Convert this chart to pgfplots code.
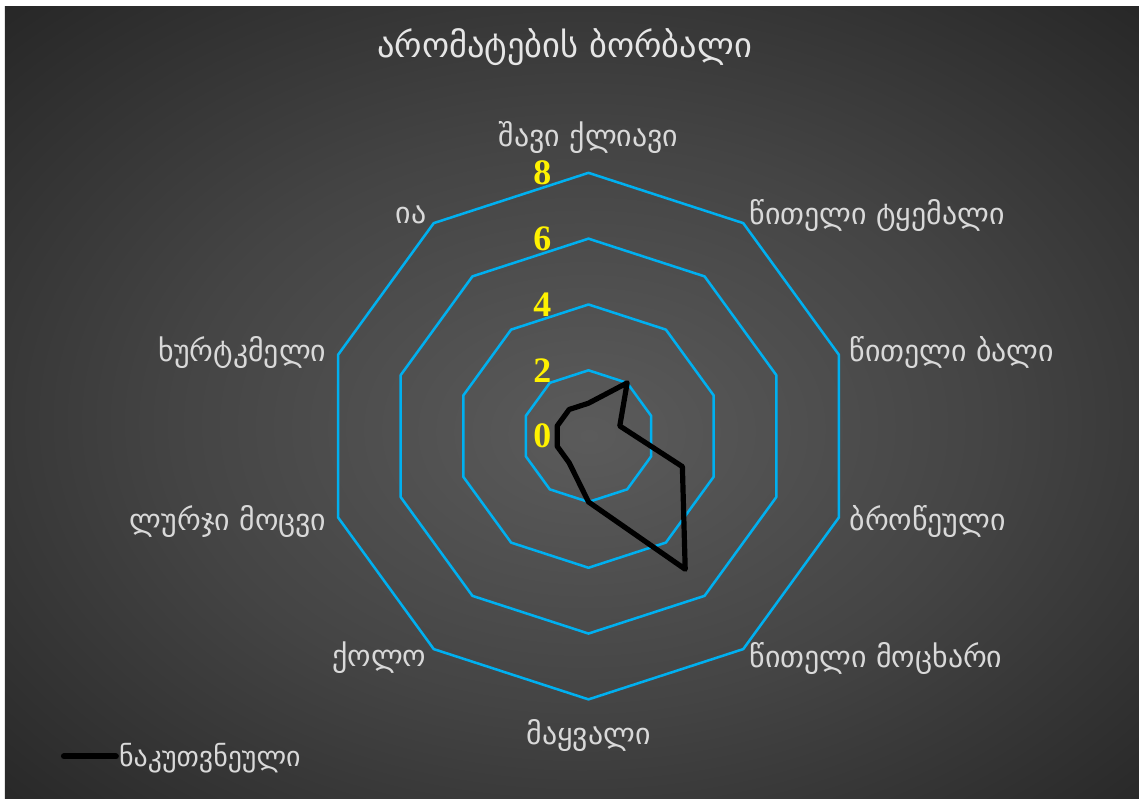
\documentclass[border=0pt]{standalone}
\usepackage{pgfplots}
\pgfplotsset{compat=1.18}
\usepackage{fontspec}
\newfontfamily\geo{DejaVu Sans}
\newfontfamily\numfont{Liberation Serif}
\definecolor{ring}{HTML}{00B0F0}
\definecolor{lbl}{HTML}{D9D9D9}
\definecolor{ttl}{HTML}{E6E6E6}
\definecolor{bgc}{HTML}{5B5B5B}
\definecolor{bgm}{HTML}{444444}
\definecolor{bge}{HTML}{272727}
\pgfdeclareradialshading{bgshade}{\pgfpoint{0.75bp}{-2.1bp}}%
  {color(0bp)=(bgc); color(18bp)=(bgm); color(36bp)=(bge); color(50bp)=(bge)}
\tikzset{lab/.style={inner sep=0pt, text=lbl, font=\geo\fontsize{22.5}{22.5}\selectfont}}
\begin{document}
\begin{tikzpicture}[x=0.75bp,y=0.75bp]
% canvas and background
\fill[white] (0,0) rectangle (1139,798);
\fill[bge] (5,0) rectangle (1139,791);
\shade[shading=bgshade] (5,-1) rectangle (1140,791);
\begin{axis}[at={(441.75bp,271.125bp)}, anchor=center, scale only axis,
  width=395.25bp, height=395.25bp,
  xmin=-8, xmax=8, ymin=-8, ymax=8, hide axis, clip=false]
% grid rings at 2, 4, 6, 8
\pgfplotsinvokeforeach{2,4,6,8}{
  \addplot[ring, line width=1.9bp, line join=round, data cs=polar] coordinates
    {(90,#1) (54,#1) (18,#1) (-18,#1) (-54,#1) (-90,#1) (-126,#1) (-162,#1) (-198,#1) (-234,#1)} -- cycle;
}
% series
\addplot[black, line width=3.9bp, line join=round, data cs=polar] coordinates
  {(90,1) (54,2) (18,1) (-18,3) (-54,5) (-90,2) (-126,1) (-162,1) (-198,1) (-234,1)} -- cycle;
% radial scale labels
\pgfplotsinvokeforeach{0,2,4,6,8}{
  \node[inner sep=0pt, text=yellow, font=\numfont\bfseries\fontsize{27}{27}\selectfont] at (axis cs:-1.4,#1) {#1};
}
\end{axis}
% title
\node[anchor=base, inner sep=0pt, text=ttl, font=\geo\fontsize{26}{26}\selectfont] at (565,740) {არომატების ბორბალი};
% category labels
\node[lab, anchor=base] at (589,651) {შავი ქლიავი};
\node[lab, anchor=base west] at (750,573) {წითელი ტყემალი};
\node[lab, anchor=base west] at (850,436) {წითელი ბალი};
\node[lab, anchor=base west] at (850,267) {ბროწეული};
\node[lab, anchor=base west] at (750,130) {წითელი მოცხარი};
\node[lab, anchor=base] at (589,53) {მაყვალი};
\node[lab, anchor=base east] at (427,131) {ქოლო};
\node[lab, anchor=base east] at (327,267) {ლურჯი მოცვი};
\node[lab, anchor=base east] at (327,436) {ხურტკმელი};
\node[lab, anchor=base east] at (427,574) {ია};
% legend
\draw[black, line width=4.5bp, line cap=round] (64,41) -- (116,41);
\node[lab, anchor=base west, font=\geo\fontsize{21}{21}\selectfont] at (119,31) {ნაკუთვნეული};
\useasboundingbox (0,0) rectangle (1139,798);
\end{tikzpicture}
\end{document}
